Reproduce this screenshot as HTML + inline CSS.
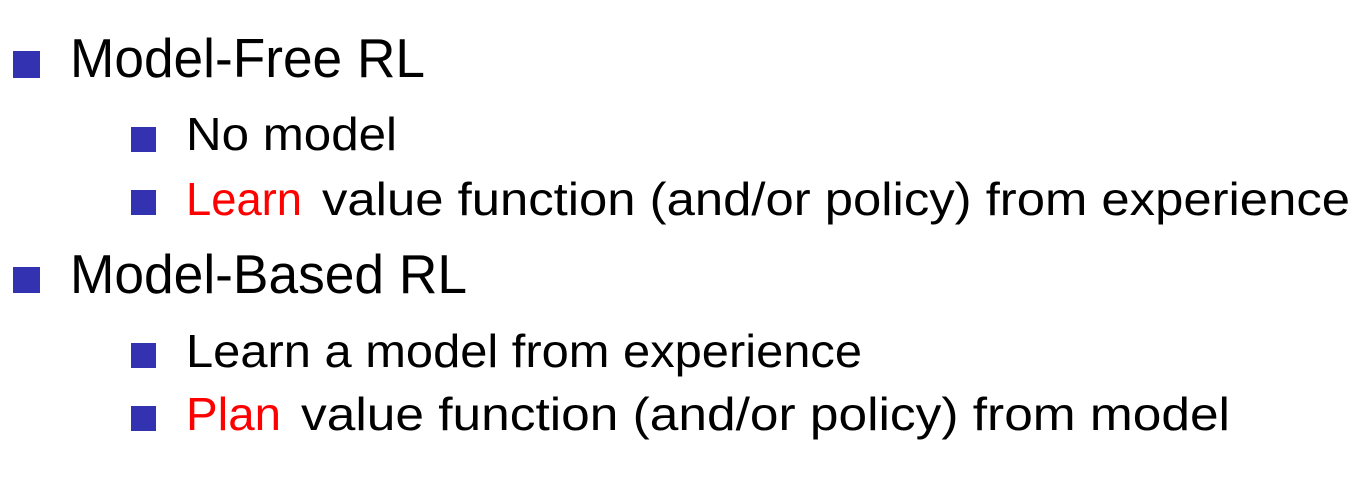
<!DOCTYPE html>
<html><head><meta charset="utf-8"><style>
html,body{margin:0;padding:0;background:#fff;width:1370px;height:500px;overflow:hidden}
text{font-family:"Liberation Sans",sans-serif;fill:#000}
.r{fill:#ff0000}
</style></head><body>
<svg width="1370" height="500" xmlns="http://www.w3.org/2000/svg">
<g fill="#3333b2">
<rect x="13" y="51" width="27" height="27"/>
<rect x="131" y="127" width="25" height="25"/>
<rect x="131" y="190" width="25" height="25"/>
<rect x="13" y="267" width="27" height="26"/>
<rect x="131" y="343" width="25" height="25"/>
<rect x="131" y="406" width="25" height="25"/>
</g>
<text x="70" y="77" font-size="55" textLength="355" lengthAdjust="spacingAndGlyphs">Model-Free RL</text>
<text x="186" y="150" font-size="46" textLength="211" lengthAdjust="spacingAndGlyphs">No model</text>
<text x="186" y="215" font-size="46" class="r" textLength="116" lengthAdjust="spacingAndGlyphs">Learn</text>
<text x="322" y="215" font-size="46" textLength="1028" lengthAdjust="spacingAndGlyphs">value function (and/or policy) from experience</text>
<text x="70" y="293" font-size="55" textLength="397" lengthAdjust="spacingAndGlyphs">Model-Based RL</text>
<text x="186" y="367" font-size="46" textLength="676" lengthAdjust="spacingAndGlyphs">Learn a model from experience</text>
<text x="186" y="430" font-size="46" class="r" textLength="95" lengthAdjust="spacingAndGlyphs">Plan</text>
<text x="301" y="430" font-size="46" textLength="929" lengthAdjust="spacingAndGlyphs">value function (and/or policy) from model</text>
</svg>
</body></html>
